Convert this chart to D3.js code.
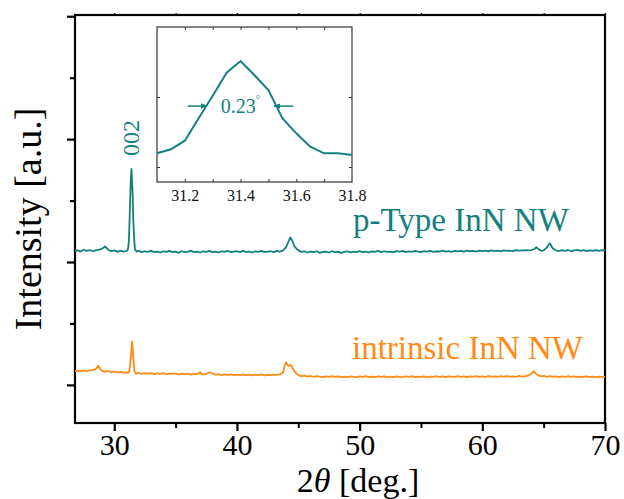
<!DOCTYPE html>
<html>
<head>
<meta charset="utf-8">
<script src="https://cdn.jsdelivr.net/npm/d3@7"></script>
<style>
html,body{margin:0;padding:0;background:#fff;}
svg{display:block;}
text{font-family:"Liberation Serif","Times New Roman",serif;}
</style>
</head>
<body>
<svg id="chart" width="624" height="499"></svg>
<script>
// ---------- DATA ----------
const xTicks = [30, 40, 50, 60, 70];
const xMinorTicks = [35, 45, 55, 65];
const yTicks = [0, 1000, 2000, 3000, 4000, 5000, 6000];
const insetXTicks = [31.2, 31.4, 31.6, 31.8];
const seriesNames = ["p-Type InN NW", "intrinsic InN NW"];
const peakLabel = "002";
const fwhmLabel = "0.23";

// p-Type InN NW: [2theta, intensity]
const pType = [
[26.80,2185],[27.00,2190],[27.25,2170],[27.50,2200],[27.75,2180],[28.00,2195],[28.25,2175],[28.50,2190],[28.75,2200],
[29.00,2215],[29.25,2255],[29.50,2200],[29.75,2175],[30.00,2190],[30.25,2165],[30.50,2185],[30.75,2170],
[31.00,2180],[31.10,2196],[31.15,2253],[31.20,2376],[31.25,2700],[31.30,3019],[31.35,3347],[31.40,3514],
[31.45,3310],[31.50,3100],[31.55,2696],[31.60,2481],[31.65,2290],[31.70,2196],[31.75,2196],[31.80,2171],
[32.00,2180],[32.25,2160],[32.50,2175],[32.75,2165],[33.00,2185],[33.25,2160],[33.50,2170],[33.75,2155],
[34.00,2175],[34.25,2165],[34.50,2180],[34.75,2160],[35.00,2170],[35.25,2150],[35.50,2175],[35.75,2160],
[36.00,2165],[36.25,2185],[36.50,2160],[36.75,2170],[37.00,2155],[37.25,2175],[37.50,2165],[37.75,2180],
[38.00,2160],[38.25,2170],[38.50,2155],[38.75,2175],[39.00,2165],[39.25,2180],[39.50,2160],[39.75,2170],
[40.00,2175],[40.25,2160],[40.50,2180],[40.75,2165],[41.00,2170],[41.25,2155],[41.50,2175],[41.75,2165],
[42.00,2180],[42.25,2160],[42.50,2170],[42.75,2175],[43.00,2160],[43.25,2180],[43.50,2170],[43.75,2190],
[44.00,2240],[44.20,2330],[44.35,2400],[44.50,2350],[44.70,2250],[45.00,2190],[45.25,2165],[45.50,2175],
[45.75,2155],[46.00,2170],[46.25,2160],[46.50,2175],[46.75,2150],[47.00,2165],[47.25,2170],[47.50,2155],
[47.75,2175],[48.00,2160],[48.25,2170],[48.50,2150],[48.75,2165],[49.00,2175],[49.25,2158],[49.50,2170],
[49.75,2162],[50.00,2178],[50.25,2160],[50.50,2170],[50.75,2155],[51.00,2172],[51.25,2165],[51.50,2180],
[51.75,2160],[52.00,2175],[52.25,2165],[52.50,2170],[52.75,2158],[53.00,2176],[53.25,2168],[53.50,2180],
[53.75,2162],[54.00,2172],[54.25,2165],[54.50,2182],[54.75,2170],[55.00,2160],[55.25,2178],[55.50,2168],
[55.75,2180],[56.00,2165],[56.25,2175],[56.50,2170],[56.75,2185],[57.00,2168],[57.25,2178],[57.50,2165],
[57.75,2182],[58.00,2172],[58.25,2180],[58.50,2168],[58.75,2185],[59.00,2175],[59.25,2182],[59.50,2170],
[59.75,2186],[60.00,2176],[60.25,2184],[60.50,2172],[60.75,2188],[61.00,2178],[61.25,2185],[61.50,2174],
[61.75,2190],[62.00,2180],[62.25,2186],[62.50,2176],[62.75,2192],[63.00,2184],[63.25,2190],[63.50,2195],
[63.75,2188],[64.00,2195],[64.25,2212],[64.40,2240],[64.60,2205],[64.85,2180],[65.00,2192],[65.25,2235],
[65.50,2305],[65.75,2220],[66.00,2190],[66.25,2178],[66.50,2192],[66.75,2180],[67.00,2195],[67.25,2175],
[67.50,2188],[67.75,2196],[68.00,2180],[68.25,2192],[68.50,2178],[68.75,2190],[69.00,2182],[69.25,2195],
[69.50,2180],[69.75,2192],[70.00,2188]
];

// intrinsic InN NW: [2theta, intensity]
const intrinsic = [
[26.80,225],[27.00,228],[27.25,222],[27.50,235],[27.75,226],[28.00,236],[28.25,240],[28.50,262],[28.70,309],
[28.90,250],[29.00,230],[29.25,216],[29.50,226],[29.75,208],[30.00,215],[30.25,205],[30.50,212],
[30.75,198],[31.00,205],[31.20,200],[31.30,330],[31.40,560],[31.45,704],[31.50,620],[31.55,430],
[31.65,215],[31.75,185],[32.00,195],[32.25,178],[32.50,190],[32.75,182],[33.00,192],[33.25,176],
[33.50,188],[33.75,180],[34.00,190],[34.25,172],[34.50,185],[34.75,178],[35.00,186],[35.25,170],
[35.50,182],[35.75,175],[36.00,184],[36.25,168],[36.50,178],[36.75,172],[37.00,205],[37.10,180],
[37.25,168],[37.50,178],[37.80,206],[38.00,185],[38.25,165],[38.50,175],[38.75,160],[39.00,172],
[39.25,162],[39.50,170],[39.75,158],[40.00,168],[40.25,160],[40.50,172],[40.75,158],[41.00,166],
[41.25,155],[41.50,168],[41.75,160],[42.00,170],[42.25,156],[42.50,165],[42.75,158],[43.00,168],
[43.25,162],[43.50,172],[43.75,200],[43.90,320],[44.00,369],[44.15,320],[44.25,310],[44.40,325],
[44.55,270],[44.75,205],[45.00,158],[45.25,142],[45.50,150],[45.75,135],[46.00,145],[46.25,130],
[46.50,142],[46.75,136],[47.00,128],[47.25,140],[47.50,132],[47.75,144],[48.00,130],[48.25,138],
[48.50,125],[48.75,136],[49.00,128],[49.25,140],[49.50,132],[49.75,126],[50.00,138],[50.25,130],
[50.50,142],[50.75,128],[51.00,136],[51.25,125],[51.50,138],[51.75,130],[52.00,140],[52.25,126],
[52.50,135],[52.75,128],[53.00,140],[53.25,132],[53.50,126],[53.75,138],[54.00,130],[54.25,142],
[54.50,128],[54.75,136],[55.00,130],[55.25,140],[55.50,127],[55.75,136],[56.00,130],[56.25,142],
[56.50,132],[56.75,138],[57.00,128],[57.25,140],[57.50,134],[57.75,130],[58.00,142],[58.25,132],
[58.50,138],[58.75,128],[59.00,140],[59.25,134],[59.50,142],[59.75,130],[60.00,138],[60.25,132],
[60.50,144],[60.75,135],[61.00,140],[61.25,130],[61.50,142],[61.75,136],[62.00,144],[62.25,134],
[62.50,140],[62.75,132],[63.00,145],[63.25,136],[63.50,142],[63.75,150],[64.00,180],[64.20,223],
[64.40,175],[64.60,150],[64.85,138],[65.00,145],[65.25,132],[65.50,142],[65.75,134],[66.00,140],
[66.25,128],[66.50,138],[66.75,132],[67.00,142],[67.25,130],[67.50,138],[67.75,126],[68.00,136],
[68.25,130],[68.50,140],[68.75,128],[69.00,135],[69.25,126],[69.50,136],[69.75,130],[70.00,132]
];

// ---------- STYLE ----------
const teal = "#13807f";
const orange = "#ff8a14";

const W = 624, H = 499;
const m = {left: 75, right: 605, top: 15, bottom: 423};
const svg = d3.select("#chart");

const x = d3.scaleLinear().domain([26.8, 70]).range([m.left, m.right]);
const y = d3.scaleLinear().domain([-620, 6020]).range([m.bottom, m.top]);

// frame
svg.append("rect").attr("x", m.left).attr("y", m.top)
  .attr("width", m.right - m.left).attr("height", m.bottom - m.top)
  .attr("fill", "none").attr("stroke", "#000").attr("stroke-width", 2.2);

// bottom axis
const xAxis = svg.append("g").attr("transform", `translate(0,${m.bottom})`)
  .call(d3.axisBottom(x).tickValues(xTicks).tickSize(8).tickSizeOuter(0).tickPadding(3));
xAxis.select(".domain").remove();
xAxis.selectAll(".tick line").attr("stroke-width", 2.2);
xAxis.selectAll(".tick text").attr("font-size", 30).attr("fill", "#000");
const xMinor = svg.append("g").attr("transform", `translate(0,${m.bottom})`)
  .call(d3.axisBottom(x).tickValues(xMinorTicks).tickSize(5).tickSizeOuter(0).tickFormat(""));
xMinor.select(".domain").remove();
xMinor.selectAll(".tick line").attr("stroke-width", 2);

// top mirror ticks
const xTop = svg.append("g").attr("transform", `translate(0,${m.top})`)
  .call(d3.axisTop(x).tickValues(xTicks.concat(xMinorTicks)).tickSize(2).tickSizeOuter(0).tickFormat(""));
xTop.select(".domain").remove();
xTop.selectAll(".tick line").attr("stroke-width", 1.2);

// left axis
const yAxis = svg.append("g").attr("transform", `translate(${m.left},0)`)
  .call(d3.axisLeft(y).tickValues(yTicks).tickSizeOuter(0).tickFormat(""));
yAxis.select(".domain").remove();
yAxis.selectAll(".tick line")
  .attr("x2", d => (d % 2000 === 0) ? -8 : -5)
  .attr("stroke-width", 2.2);

// axis titles
svg.append("text").attr("x", 358).attr("y", 492).attr("text-anchor", "middle")
  .attr("font-size", 34).attr("fill", "#000")
  .html('2<tspan font-style="italic">θ</tspan> [deg.]');
svg.append("text").attr("transform", `translate(41,${(m.top + m.bottom) / 2}) rotate(-90)`)
  .attr("text-anchor", "middle").attr("font-size", 38).attr("fill", "#000")
  .text("Intensity [a.u.]");

// series
const line = d3.line().x(d => x(d[0])).y(d => y(d[1]));
svg.append("path").datum(pType).attr("d", line).attr("fill", "none")
  .attr("stroke", teal).attr("stroke-width", 1.8).attr("stroke-linejoin", "round");
svg.append("path").datum(intrinsic).attr("d", line).attr("fill", "none")
  .attr("stroke", orange).attr("stroke-width", 1.8).attr("stroke-linejoin", "round");

// labels
svg.append("text").attr("x", 353).attr("y", 231).attr("font-size", 33)
  .attr("fill", teal).text(seriesNames[0]);
svg.append("text").attr("x", 352).attr("y", 359).attr("font-size", 33)
  .attr("fill", orange).text(seriesNames[1]);
svg.append("text").attr("transform", `translate(139,138) rotate(-90)`)
  .attr("text-anchor", "middle").attr("font-size", 24).attr("fill", teal).text(peakLabel);

// ---------- INSET ----------
const im = {left: 157, right: 352, top: 27, bottom: 182};
const ix = d3.scaleLinear().domain([31.1, 31.8]).range([im.left, im.right]);
const iy = d3.scaleLinear().domain([1786, 4000]).range([im.bottom, im.top]);
const inset = svg.append("g");
inset.append("rect").attr("x", im.left).attr("y", im.top)
  .attr("width", im.right - im.left).attr("height", im.bottom - im.top)
  .attr("fill", "#fff").attr("stroke", "#333").attr("stroke-width", 1.2);

const insetAll = d3.range(31.2, 31.75, 0.1).map(v => +v.toFixed(1));
const ib = inset.append("g").attr("transform", `translate(0,${im.bottom})`)
  .call(d3.axisBottom(ix).tickValues(insetXTicks).tickSize(0).tickPadding(8).tickFormat(d3.format(".1f")));
ib.select(".domain").remove();
ib.selectAll(".tick text").attr("font-size", 16).attr("fill", "#111");
const ibt = inset.append("g").attr("transform", `translate(0,${im.bottom})`)
  .call(d3.axisTop(ix).tickValues(insetAll).tickSize(3).tickFormat(""));
ibt.select(".domain").remove();
const itt = inset.append("g").attr("transform", `translate(0,${im.top})`)
  .call(d3.axisBottom(ix).tickValues(insetAll).tickSize(3).tickFormat(""));
itt.select(".domain").remove();
const iyl = inset.append("g").attr("transform", `translate(${im.left},0)`)
  .call(d3.axisRight(iy).tickValues([2000, 3000]).tickSize(3).tickFormat(""));
iyl.select(".domain").remove();
const iyr = inset.append("g").attr("transform", `translate(${im.right},0)`)
  .call(d3.axisLeft(iy).tickValues([2000, 3000]).tickSize(3).tickFormat(""));
iyr.select(".domain").remove();
inset.selectAll(".tick line").attr("stroke", "#333");

const insetData = pType.filter(d => d[0] >= 31.1 && d[0] <= 31.8);
const iline = d3.line().x(d => ix(d[0])).y(d => iy(d[1]));
inset.append("path").datum(insetData).attr("d", iline).attr("fill", "none")
  .attr("stroke", teal).attr("stroke-width", 2).attr("stroke-linejoin", "miter");

// FWHM arrows
const defs = svg.append("defs");
defs.append("marker").attr("id", "ah").attr("viewBox", "0 0 10 10")
  .attr("refX", 9).attr("refY", 5).attr("markerWidth", 7).attr("markerHeight", 7)
  .attr("orient", "auto").attr("markerUnits", "userSpaceOnUse")
  .append("path").attr("d", "M0,1 L10,5 L0,9 Z").attr("fill", teal);
const hm = 2870;
inset.append("line").attr("x1", ix(31.21)).attr("x2", ix(31.28)).attr("y1", iy(hm)).attr("y2", iy(hm))
  .attr("stroke", teal).attr("stroke-width", 1.5).attr("marker-end", "url(#ah)");
inset.append("line").attr("x1", ix(31.59)).attr("x2", ix(31.52)).attr("y1", iy(hm)).attr("y2", iy(hm))
  .attr("stroke", teal).attr("stroke-width", 1.5).attr("marker-end", "url(#ah)");
inset.append("text").attr("x", ix(31.4)).attr("y", iy(hm) + 7).attr("text-anchor", "middle")
  .attr("font-size", 20).attr("fill", teal)
  .html(fwhmLabel + '<tspan font-size="11" dy="-10">°</tspan>');
</script>
</body>
</html>
